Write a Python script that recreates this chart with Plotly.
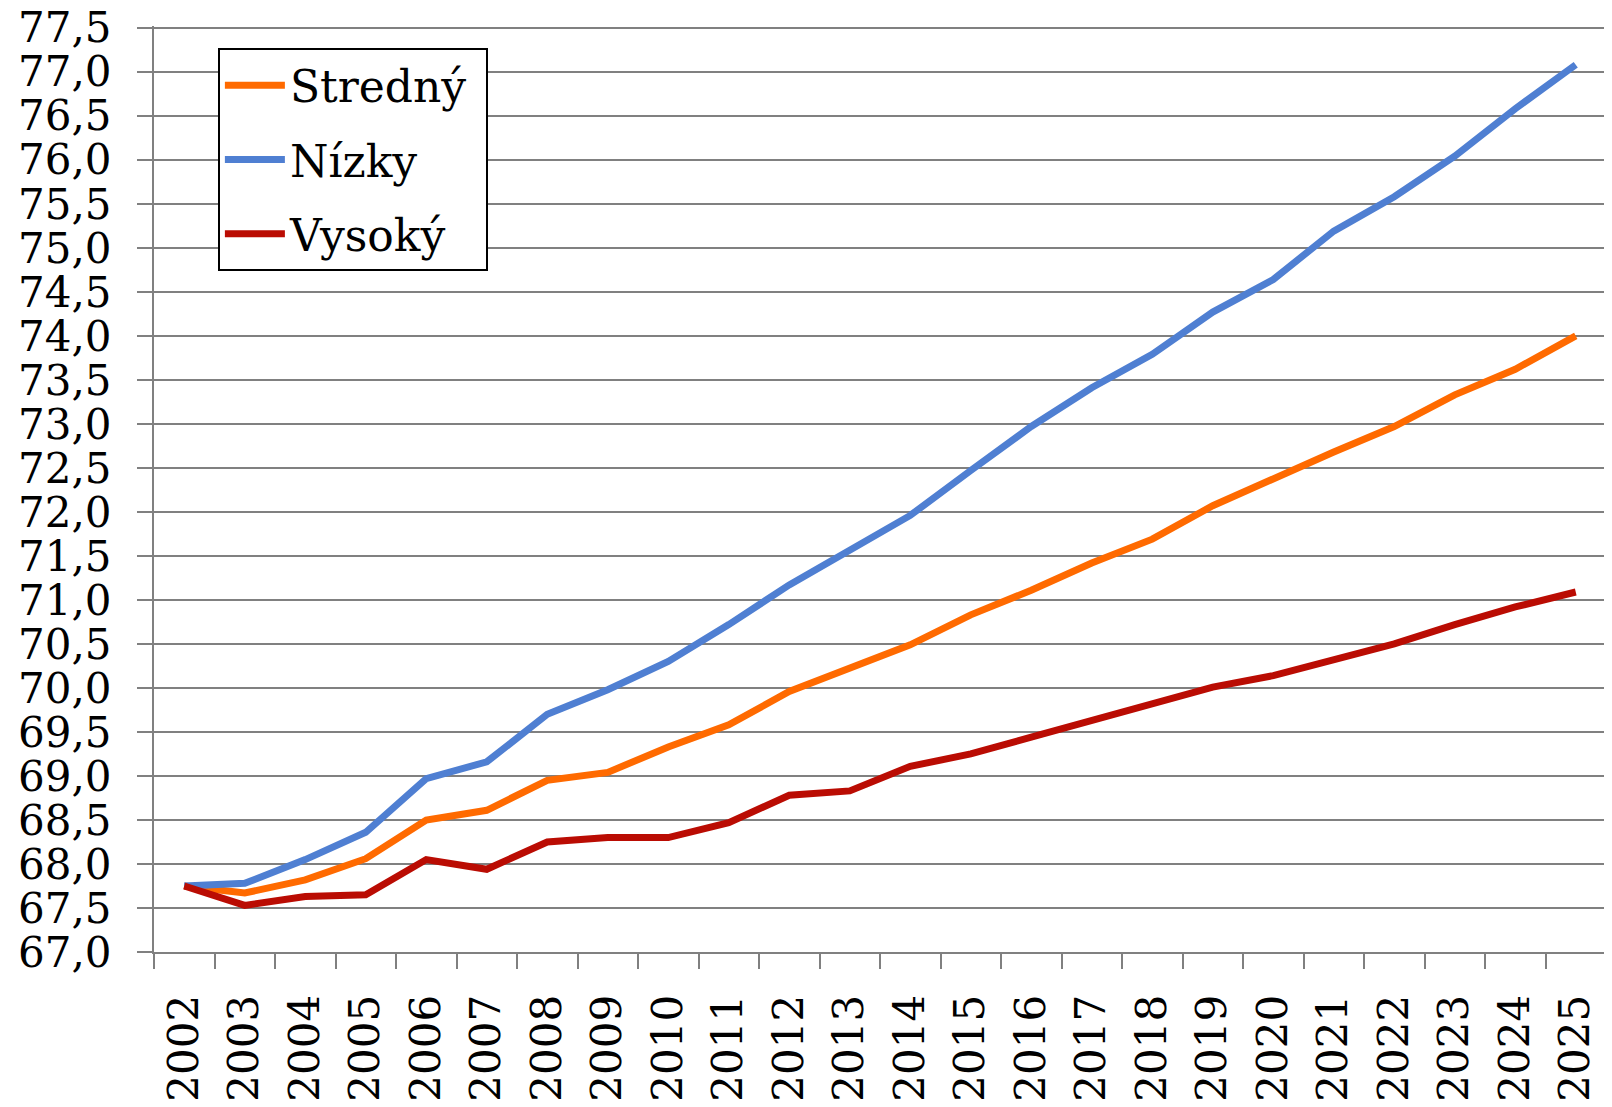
import plotly.graph_objects as go

years = [str(y) for y in range(2002, 2026)]
stredny = [67.75, 67.67, 67.82, 68.06, 68.50, 68.61, 68.95, 69.04, 69.33, 69.58, 69.96, 70.23,
           70.49, 70.83, 71.11, 71.42, 71.69, 72.07, 72.38, 72.68, 72.97, 73.33, 73.62, 74.00]
nizky = [67.75, 67.78, 68.05, 68.36, 68.97, 69.16, 69.70, 69.98, 70.30, 70.72, 71.17, 71.56,
         71.96, 72.47, 72.97, 73.41, 73.79, 74.27, 74.64, 75.19, 75.58, 76.04, 76.58, 77.08]
vysoky = [67.75, 67.53, 67.63, 67.65, 68.05, 67.94, 68.25, 68.30, 68.30, 68.47, 68.78, 68.83,
          69.11, 69.25, 69.44, 69.63, 69.80, 70.01, 70.14, 70.33, 70.50, 70.72, 70.92, 71.09]

series = [("Stredný", stredny, "#FF6A00"), ("Nízky", nizky, "#4F7FD2"), ("Vysoký", vysoky, "#BA0C03")]

FONT = "DejaVu Serif"
GRID = "#808080"
NBSP = "\u00a0"

fig = go.Figure()
for i, (name, vals, col) in enumerate(series):
    fig.add_trace(go.Scatter(x=years, y=vals, name=name + NBSP, mode="lines",
                             line=dict(color=col, width=7),
                             legendgroup=f"g{i}"))

# page body has an 8px default margin, so the figure is sized to fit inside the window
fig.update_layout(
    width=1604, height=1099,
    margin=dict(l=146, r=6, t=18, b=155, autoexpand=False),
    plot_bgcolor="white", paper_bgcolor="white",
    separators=", ",
    font=dict(family=FONT, size=42, color="black"),
    showlegend=True,
    legend=dict(x=0.044, y=0.976, xanchor="left", yanchor="top",
                bordercolor="black", borderwidth=2, bgcolor="white",
                font=dict(family=FONT, size=44, color="black"),
                tracegroupgap=14, traceorder="grouped", itemwidth=60),
)
fig.update_xaxes(type="category", tickson="boundaries", ticks="outside", ticklen=15,
                 tickwidth=2, tickcolor=GRID, showline=True, linecolor=GRID, linewidth=2,
                 showgrid=False, tickangle=-90, tickfont=dict(family=FONT, size=42),
                 range=[-0.5, 23.5], ticklabelstandoff=24, automargin=False)
fig.update_yaxes(range=[67, 77.52], dtick=0.5, tick0=67, tickformat=".1f", ticks="outside",
                 ticklen=15, tickwidth=2, tickcolor=GRID, showline=True, linecolor=GRID,
                 linewidth=2, showgrid=True, gridcolor=GRID, gridwidth=2, zeroline=False,
                 tickfont=dict(family=FONT, size=42), ticklabelstandoff=17, automargin=False,
                 ticklabeloverflow="allow")

fig.write_html("out.html")
